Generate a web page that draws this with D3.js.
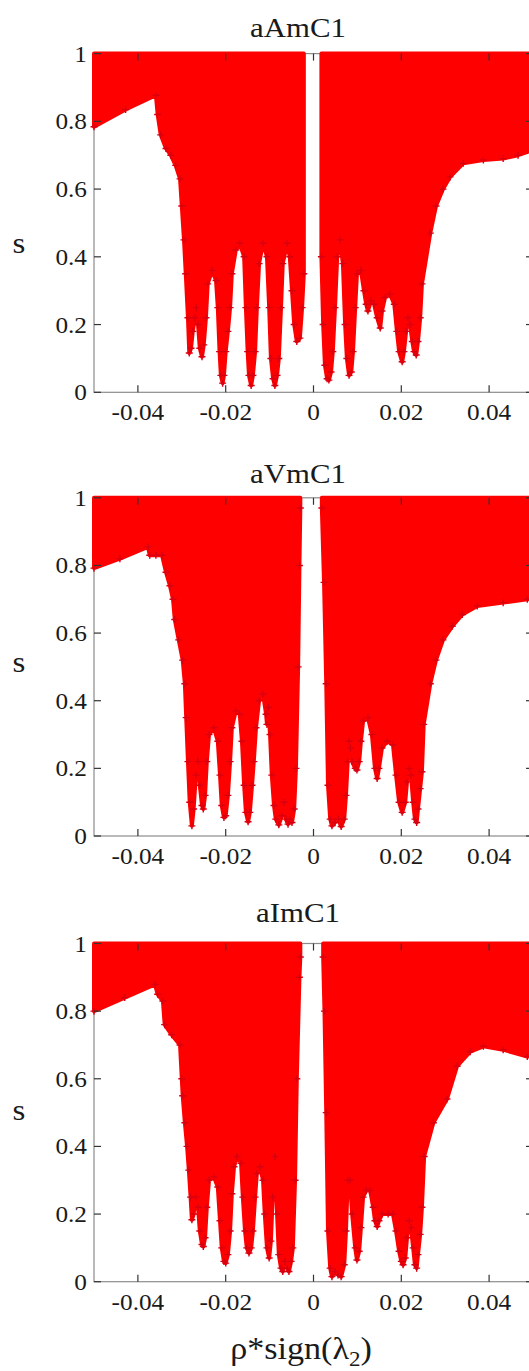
<!DOCTYPE html>
<html>
<head>
<meta charset="utf-8">
<script src="https://cdn.jsdelivr.net/npm/d3@7"></script>
<style>
  body { margin: 0; background: #fff; }
  svg { display: block; }
  text { font-family: "Liberation Serif", "Times New Roman", serif; fill: #1a1a1a; }
</style>
</head>
<body>
<svg id="chart" width="529" height="1371"></svg>
<script>
// Lower edge of each point cloud: for every rho*sign(lambda2) the smallest s reached.
// Points fill the column from that value up to s = 1; null marks the empty band near 0.
const aAmC1 = [[-0.0500,0.784],[-0.0428,0.835],[-0.0359,0.877],[-0.0355,0.82],[-0.0348,0.76],[-0.0336,0.72],[-0.0325,0.70],[-0.0314,0.67],[-0.0304,0.63],[-0.0300,0.55],[-0.0295,0.45],[-0.0291,0.35],[-0.0286,0.22],[-0.0283,0.116],[-0.0279,0.13],[-0.0275,0.18],[-0.0270,0.22],[-0.0267,0.25],[-0.0263,0.20],[-0.0259,0.13],[-0.0254,0.105],[-0.0250,0.14],[-0.0245,0.22],[-0.0241,0.32],[-0.0231,0.36],[-0.0222,0.33],[-0.0218,0.25],[-0.0214,0.12],[-0.0211,0.05],[-0.0207,0.027],[-0.0204,0.05],[-0.0200,0.12],[-0.0195,0.18],[-0.0190,0.25],[-0.0186,0.35],[-0.0177,0.42],[-0.0168,0.44],[-0.0158,0.40],[-0.0154,0.25],[-0.0150,0.12],[-0.0147,0.05],[-0.0142,0.02],[-0.0138,0.05],[-0.0133,0.12],[-0.0129,0.25],[-0.0124,0.38],[-0.0115,0.44],[-0.0106,0.40],[-0.0101,0.25],[-0.0097,0.10],[-0.0092,0.04],[-0.0088,0.02],[-0.0083,0.05],[-0.0079,0.10],[-0.0074,0.25],[-0.0070,0.38],[-0.0060,0.44],[-0.0054,0.40],[-0.0049,0.30],[-0.0044,0.20],[-0.0038,0.15],[-0.0031,0.16],[-0.0026,0.25],[-0.0022,0.35],[-0.0021,null],[0.0017,null],[0.0018,0.40],[0.0022,0.20],[0.0026,0.08],[0.0031,0.04],[0.0035,0.036],[0.0040,0.06],[0.0044,0.12],[0.0049,0.25],[0.0054,0.40],[0.0060,0.45],[0.0067,0.38],[0.0072,0.20],[0.0076,0.10],[0.0081,0.05],[0.0086,0.06],[0.0090,0.12],[0.0095,0.25],[0.0099,0.35],[0.0108,0.36],[0.0115,0.30],[0.0120,0.26],[0.0124,0.24],[0.0131,0.27],[0.0138,0.26],[0.0145,0.22],[0.0152,0.19],[0.0156,0.24],[0.0163,0.28],[0.0174,0.29],[0.0184,0.26],[0.0190,0.18],[0.0195,0.12],[0.0202,0.09],[0.0206,0.12],[0.0211,0.18],[0.0215,0.22],[0.0220,0.20],[0.0225,0.15],[0.0229,0.12],[0.0234,0.11],[0.0238,0.15],[0.0243,0.22],[0.0247,0.32],[0.0266,0.47],[0.0279,0.55],[0.0295,0.60],[0.0311,0.636],[0.0341,0.676],[0.0387,0.686],[0.0432,0.69],[0.0466,0.70],[0.0500,0.715]];

const aVmC1 = [[-0.0500,0.792],[-0.0441,0.82],[-0.0377,0.855],[-0.0373,0.83],[-0.0359,0.83],[-0.0345,0.83],[-0.0336,0.78],[-0.0327,0.74],[-0.0320,0.70],[-0.0316,0.64],[-0.0307,0.58],[-0.0298,0.52],[-0.0293,0.45],[-0.0290,0.35],[-0.0286,0.22],[-0.0282,0.10],[-0.0277,0.03],[-0.0273,0.08],[-0.0268,0.18],[-0.0263,0.22],[-0.0259,0.15],[-0.0254,0.09],[-0.0251,0.08],[-0.0247,0.12],[-0.0243,0.22],[-0.0238,0.30],[-0.0227,0.32],[-0.0218,0.28],[-0.0213,0.18],[-0.0209,0.09],[-0.0204,0.055],[-0.0200,0.06],[-0.0195,0.12],[-0.0190,0.22],[-0.0186,0.32],[-0.0177,0.37],[-0.0168,0.36],[-0.0163,0.28],[-0.0158,0.15],[-0.0154,0.07],[-0.0149,0.042],[-0.0145,0.07],[-0.0140,0.15],[-0.0136,0.22],[-0.0131,0.32],[-0.0124,0.40],[-0.0115,0.42],[-0.0108,0.36],[-0.0106,0.33],[-0.0103,0.38],[-0.0099,0.30],[-0.0095,0.18],[-0.0090,0.09],[-0.0086,0.05],[-0.0079,0.033],[-0.0072,0.06],[-0.0067,0.10],[-0.0063,0.05],[-0.0058,0.035],[-0.0054,0.05],[-0.0049,0.04],[-0.0044,0.08],[-0.0040,0.20],[-0.0035,0.50],[-0.0032,0.80],[-0.0030,0.97],[-0.0029,null],[0.0018,null],[0.0019,0.97],[0.0024,0.75],[0.0029,0.45],[0.0033,0.15],[0.0038,0.05],[0.0042,0.03],[0.0049,0.04],[0.0056,0.05],[0.0063,0.028],[0.0070,0.05],[0.0074,0.12],[0.0078,0.22],[0.0081,0.28],[0.0084,0.26],[0.0088,0.22],[0.0095,0.20],[0.0099,0.195],[0.0104,0.22],[0.0108,0.28],[0.0113,0.34],[0.0124,0.35],[0.0133,0.30],[0.0140,0.20],[0.0145,0.17],[0.0149,0.20],[0.0156,0.26],[0.0168,0.28],[0.0181,0.27],[0.0188,0.18],[0.0195,0.10],[0.0202,0.07],[0.0209,0.10],[0.0213,0.16],[0.0218,0.20],[0.0222,0.18],[0.0227,0.10],[0.0231,0.05],[0.0235,0.04],[0.0238,0.08],[0.0243,0.14],[0.0247,0.19],[0.0251,0.33],[0.0266,0.45],[0.0279,0.52],[0.0295,0.58],[0.0316,0.62],[0.0339,0.655],[0.0373,0.68],[0.0432,0.69],[0.0487,0.70],[0.0500,0.70]];

const aImC1 = [[-0.0500,0.80],[-0.0430,0.84],[-0.0361,0.879],[-0.0355,0.85],[-0.0343,0.83],[-0.0339,0.76],[-0.0323,0.73],[-0.0304,0.70],[-0.0300,0.60],[-0.0298,0.55],[-0.0293,0.47],[-0.0288,0.40],[-0.0284,0.33],[-0.0280,0.25],[-0.0277,0.183],[-0.0273,0.20],[-0.0268,0.25],[-0.0263,0.22],[-0.0259,0.15],[-0.0254,0.11],[-0.0251,0.104],[-0.0247,0.13],[-0.0243,0.22],[-0.0238,0.30],[-0.0227,0.31],[-0.0218,0.28],[-0.0213,0.18],[-0.0209,0.10],[-0.0204,0.06],[-0.0200,0.055],[-0.0195,0.08],[-0.0190,0.15],[-0.0186,0.26],[-0.0181,0.34],[-0.0174,0.37],[-0.0165,0.35],[-0.0161,0.25],[-0.0156,0.15],[-0.0152,0.10],[-0.0147,0.085],[-0.0142,0.10],[-0.0138,0.15],[-0.0133,0.25],[-0.0129,0.32],[-0.0122,0.34],[-0.0115,0.30],[-0.0111,0.20],[-0.0106,0.10],[-0.0101,0.07],[-0.0097,0.12],[-0.0093,0.25],[-0.0088,0.37],[-0.0083,0.20],[-0.0079,0.08],[-0.0074,0.04],[-0.0070,0.03],[-0.0065,0.06],[-0.0060,0.04],[-0.0056,0.03],[-0.0051,0.06],[-0.0047,0.10],[-0.0042,0.30],[-0.0038,0.60],[-0.0032,0.90],[-0.0030,0.96],[-0.0029,null],[0.0021,null],[0.0022,0.96],[0.0025,0.80],[0.0029,0.50],[0.0033,0.15],[0.0038,0.04],[0.0042,0.015],[0.0049,0.03],[0.0056,0.02],[0.0063,0.015],[0.0070,0.05],[0.0074,0.15],[0.0078,0.30],[0.0083,0.30],[0.0088,0.20],[0.0095,0.10],[0.0099,0.064],[0.0104,0.09],[0.0108,0.16],[0.0113,0.25],[0.0120,0.27],[0.0129,0.27],[0.0136,0.22],[0.0140,0.18],[0.0145,0.163],[0.0149,0.18],[0.0156,0.20],[0.0170,0.20],[0.0181,0.20],[0.0188,0.15],[0.0195,0.09],[0.0200,0.06],[0.0204,0.05],[0.0209,0.07],[0.0213,0.13],[0.0218,0.18],[0.0222,0.16],[0.0227,0.10],[0.0231,0.05],[0.0235,0.04],[0.0238,0.08],[0.0243,0.14],[0.0247,0.22],[0.0252,0.37],[0.0273,0.47],[0.0304,0.54],[0.0327,0.637],[0.0357,0.68],[0.0387,0.696],[0.0432,0.686],[0.0487,0.666],[0.0500,0.665]];

const panelTitles = ["aAmC1", "aVmC1", "aImC1"];
const panelSeries = [aAmC1, aVmC1, aImC1];
const xTicks = [-0.04, -0.02, 0, 0.02, 0.04];
const yTicks = [0, 0.2, 0.4, 0.6, 0.8, 1];
const xDomain = [-0.05, 0.05];
const yDomain = [0, 1];

// layout
const plotLeft = 94, plotRight = 533;
const panels = [
  { top: 53.6, bottom: 392.3, titleY: 37, sLabelY: 245 },
  { top: 497.8, bottom: 836, titleY: 483, sLabelY: 664 },
  { top: 943.5, bottom: 1281.7, titleY: 922, sLabelY: 1112 }
];
const tickLen = 7;
const red = "#ff0000";
const stretch = "scale(1.1,1)";

const svg = d3.select("#chart");
const x = d3.scaleLinear().domain(xDomain).range([plotLeft, plotRight]);
const fmt = d3.format("");

panels.forEach((p, i) => {
  const y = d3.scaleLinear().domain(yDomain).range([p.bottom, p.top]);
  const g = svg.append("g");
  const data = panelSeries[i];

  // border
  g.append("rect")
    .attr("x", x(xDomain[0])).attr("y", y(1))
    .attr("width", x(xDomain[1]) - x(xDomain[0]))
    .attr("height", y(0) - y(1))
    .attr("fill", "none").attr("stroke", "#8c8c8c").attr("stroke-width", 1.2);

  // point cloud: filled between the lower edge and s = 1;
  // the wide stroke stands in for the half-width of the "+" markers
  const area = d3.area()
    .defined(d => d[1] !== null)
    .x(d => x(d[0]))
    .y0(d => y(d[1]))
    .y1(() => y(1));
  g.append("path")
    .datum(data)
    .attr("d", area)
    .attr("fill", red)
    .attr("stroke", red)
    .attr("stroke-width", 4)
    .attr("stroke-linejoin", "round");

  // "+" markers along the lower edge
  g.append("g").selectAll("path")
    .data(data.filter(d => d[1] !== null))
    .join("path")
    .attr("transform", d => `translate(${x(d[0])},${y(d[1])})`)
    .attr("d", "M-3.5,0H3.5M0,-3.5V3.5")
    .attr("stroke", "#d80010")
    .attr("stroke-width", 1.4);

  // ticks on all four sides, pointing inward
  const tickG = g.append("g").attr("stroke", "#333").attr("stroke-width", 1.2);
  xTicks.forEach(t => {
    tickG.append("line").attr("x1", x(t)).attr("x2", x(t))
      .attr("y1", y(0)).attr("y2", y(0) - tickLen);
    tickG.append("line").attr("x1", x(t)).attr("x2", x(t))
      .attr("y1", y(1)).attr("y2", y(1) + tickLen);
  });
  yTicks.forEach(t => {
    tickG.append("line").attr("x1", x(xDomain[0])).attr("x2", x(xDomain[0]) + tickLen)
      .attr("y1", y(t)).attr("y2", y(t));
    tickG.append("line").attr("x1", x(xDomain[1])).attr("x2", x(xDomain[1]) - tickLen)
      .attr("y1", y(t)).attr("y2", y(t));
  });

  // tick labels
  xTicks.forEach(t => {
    g.append("text")
      .attr("transform", `translate(${x(t)},${y(0) + 28}) ${stretch}`)
      .attr("text-anchor", "middle")
      .attr("font-size", 23)
      .text(fmt(t).replace("−", "-"));
  });
  yTicks.forEach(t => {
    g.append("text")
      .attr("transform", `translate(${x(xDomain[0]) - 7},${y(t) + 8}) ${stretch}`)
      .attr("text-anchor", "end")
      .attr("font-size", 23)
      .text(fmt(t));
  });

  // title and y label
  g.append("text")
    .attr("transform", `translate(298,${p.titleY}) ${stretch}`)
    .attr("text-anchor", "middle")
    .attr("font-size", 28)
    .text(panelTitles[i]);
  g.append("text")
    .attr("transform", `translate(19,${p.sLabelY + 8}) ${stretch}`)
    .attr("text-anchor", "middle")
    .attr("font-size", 30)
    .text("s");
});

// x axis label
const xl = svg.append("text")
  .attr("transform", `translate(301,1359) ${stretch}`)
  .attr("text-anchor", "middle")
  .attr("font-size", 31);
xl.append("tspan").text("ρ*sign(λ");
xl.append("tspan").attr("font-size", 21).attr("dy", 7).text("2");
xl.append("tspan").attr("dy", -7).text(")");
</script>
</body>
</html>
